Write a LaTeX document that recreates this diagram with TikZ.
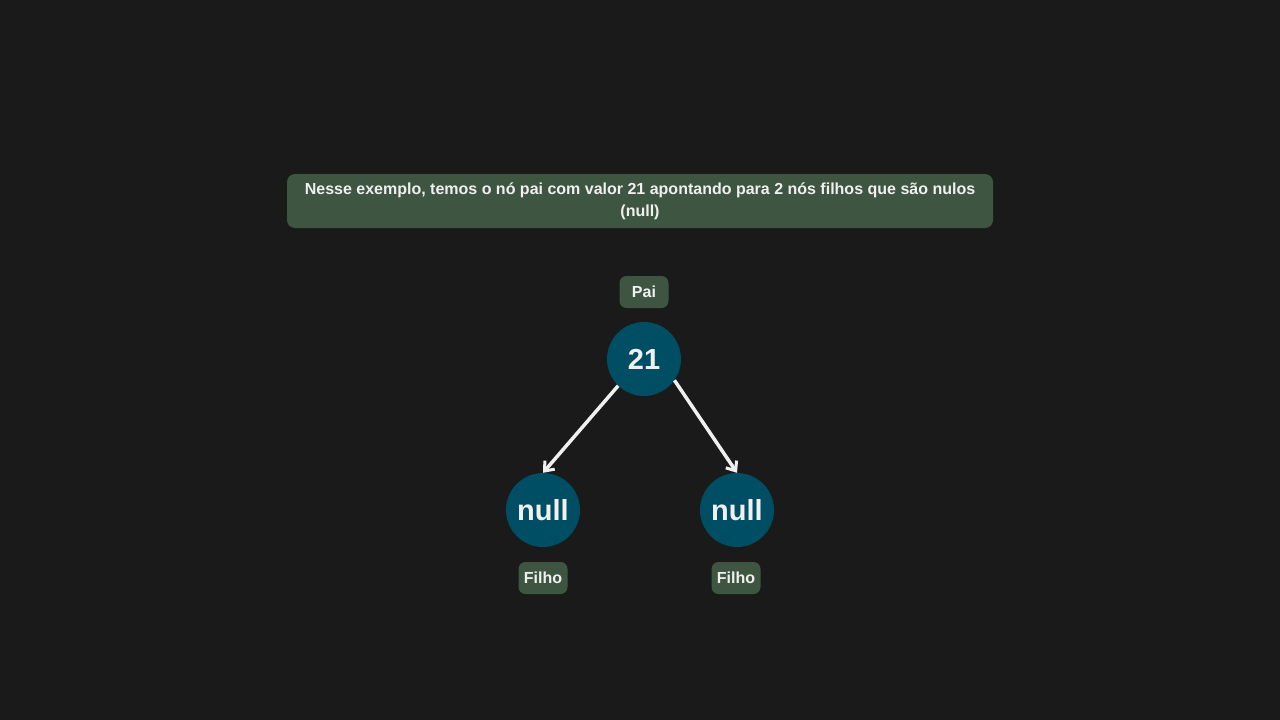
\documentclass[tikz,border=0pt]{standalone}
\usepackage{fontspec}
\setmainfont{Liberation Sans}
\usetikzlibrary{arrows.meta}
\definecolor{bgc}{HTML}{1A1A1A}
\definecolor{boxc}{HTML}{3E5641}
\definecolor{circc}{HTML}{004E64}
\definecolor{txtc}{HTML}{F0F0F0}
\begin{document}
\begin{tikzpicture}[x=1pt,y=-1pt,
  tag/.style={fill=boxc,rounded corners=7pt,text=txtc,font=\fontsize{16}{19}\selectfont\bfseries,minimum width=49pt,minimum height=32pt,inner sep=0pt},
  tree/.style={circle,fill=circc,text=txtc,font=\fontsize{29}{33}\selectfont\bfseries,minimum size=74pt,inner sep=0pt},
  link/.style={draw=txtc,line width=3.5pt,-{Straight Barb[length=8pt,width=13pt,line width=3pt]}}]
\fill[bgc] (0,0) rectangle (1280,720);
\useasboundingbox (0,0) rectangle (1280,720);
\node[fill=boxc,rounded corners=8pt,text=txtc,minimum width=706pt,minimum height=54pt,inner sep=0pt,
  align=center,font=\fontsize{16}{22}\selectfont\bfseries] (hdr) at (640,201)
  {Nesse exemplo, temos o nó pai com valor 21 apontando para 2 nós filhos que são nulos\\(null)};
\node[tag] (pai) at (644,292) {Pai};
\node[tree] (p) at (644,359) {21};
\node[tree] (l) at (543,510) {null};
\node[tree] (r) at (737,510) {null};
\node[tag] (fl) at (543,578) {Filho};
\node[tag] (fr) at (736,578) {Filho};
\draw[link] (p.226) -- (l.north);
\draw[link] (p.325) -- (r.north);
\end{tikzpicture}
\end{document}
